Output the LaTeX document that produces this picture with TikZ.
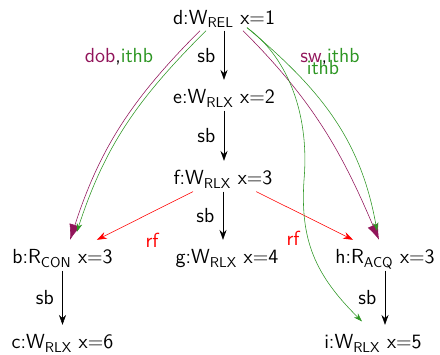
\documentclass[tikz,border=0pt]{standalone}
\usepackage{amsmath}
\usepackage{xcolor}
\usepackage{tikz}
\usetikzlibrary{arrows.meta, positioning, calc}

\definecolor{dobpurple}{RGB}{145,20,90}
\definecolor{ithbgreen}{RGB}{45,150,35}

\begin{document}
\begin{tikzpicture}[font=\sffamily\fontsize{14.5}{17}\selectfont,
  ev/.style={inner sep=1.5pt, text height=15.5pt, text depth=3pt},
  sbedge/.style={-{Stealth[length=7pt,width=5pt]}, black},
  rfedge/.style={-{Stealth[length=7pt,width=5pt]}, red},
  dobedge/.style={-{Latex[length=11pt,width=8pt]}, dobpurple},
  ithbedge/.style={-{Stealth[length=6pt,width=4pt]}, ithbgreen}]
\useasboundingbox (0,0) rectangle (11,8.85);

% Events
\node[ev] (d) at (5.6, 8.468) {d:W$_\text{REL}$ x=1};
\node[ev] (e) at (5.6, 6.47) {e:W$_\text{RLX}$ x=2};
\node[ev] (f) at (5.575, 4.445) {f:W$_\text{RLX}$ x=3};
\node[ev] (g) at (5.675, 2.47) {g:W$_\text{RLX}$ x=4};
\node[ev] (b) at (1.5625, 2.47) {b:R$_\text{CON}$ x=3};
\node[ev] (h) at (9.625, 2.47) {h:R$_\text{ACQ}$ x=3};
\node[ev] (c) at (1.5625, 0.345) {c:W$_\text{RLX}$ x=6};
\node[ev] (i) at (9.325, 0.345) {i:W$_\text{RLX}$ x=5};

% Sequenced-before
\foreach \a/\b in {d/e, e/f, f/g, b/c, h/i} {
   \draw[sbedge] (\a.south) -- (\a.south |- \b.north) node[midway, left, inner sep=6pt] {sb};
}

% Reads-from
\draw[rfedge] ([xshift=-0.75cm]f.south) -- ([xshift=0.86cm]b.north);
\draw[rfedge] ([xshift=0.83cm]f.south) -- ([xshift=-0.8cm]h.north);
\node[red] (rf1) at (3.8, 2.85) {rf};
\node[red] (rf2) at (7.325, 2.9) {rf};

% Release side: dob, sw and ithb
\draw[dobedge] ([xshift=-0.6cm]d.south) to[out=-135, in=72] ([xshift=0.19cm]b.north);
\draw[ithbedge] ([xshift=-0.45cm]d.south) to[out=-135, in=72] ([xshift=0.36cm, yshift=0.2cm]b.north);
\draw[dobedge] ([xshift=0.475cm]d.south) to[out=-45, in=113] ([xshift=-0.15cm]h.north);
\draw[ithbedge] ([xshift=0.575cm, yshift=0.075cm]d.south) to[out=-40, in=100] ([xshift=-0.2cm, yshift=0.22cm]h.north);
\draw[ithbedge] ([xshift=0.575cm, yshift=0.075cm]d.south) .. controls (7.125, 7.475) and (7.75, 6.1) .. (7.6, 4.35)
   .. controls (7.5, 2.85) and (7.875, 1.975) .. ([xshift=-0.275cm, yshift=0.085cm]i.north);

\node (lbl1) at (2.975, 7.425) {\textcolor{dobpurple}{dob},\textcolor{ithbgreen}{ithb}};
\node (lbl2) at (8.25, 7.425) {\textcolor{dobpurple}{sw},\textcolor{ithbgreen}{ithb}};
\node[ithbgreen] (lbl3) at (8.075, 7.15) {ithb};
\end{tikzpicture}
\end{document}
